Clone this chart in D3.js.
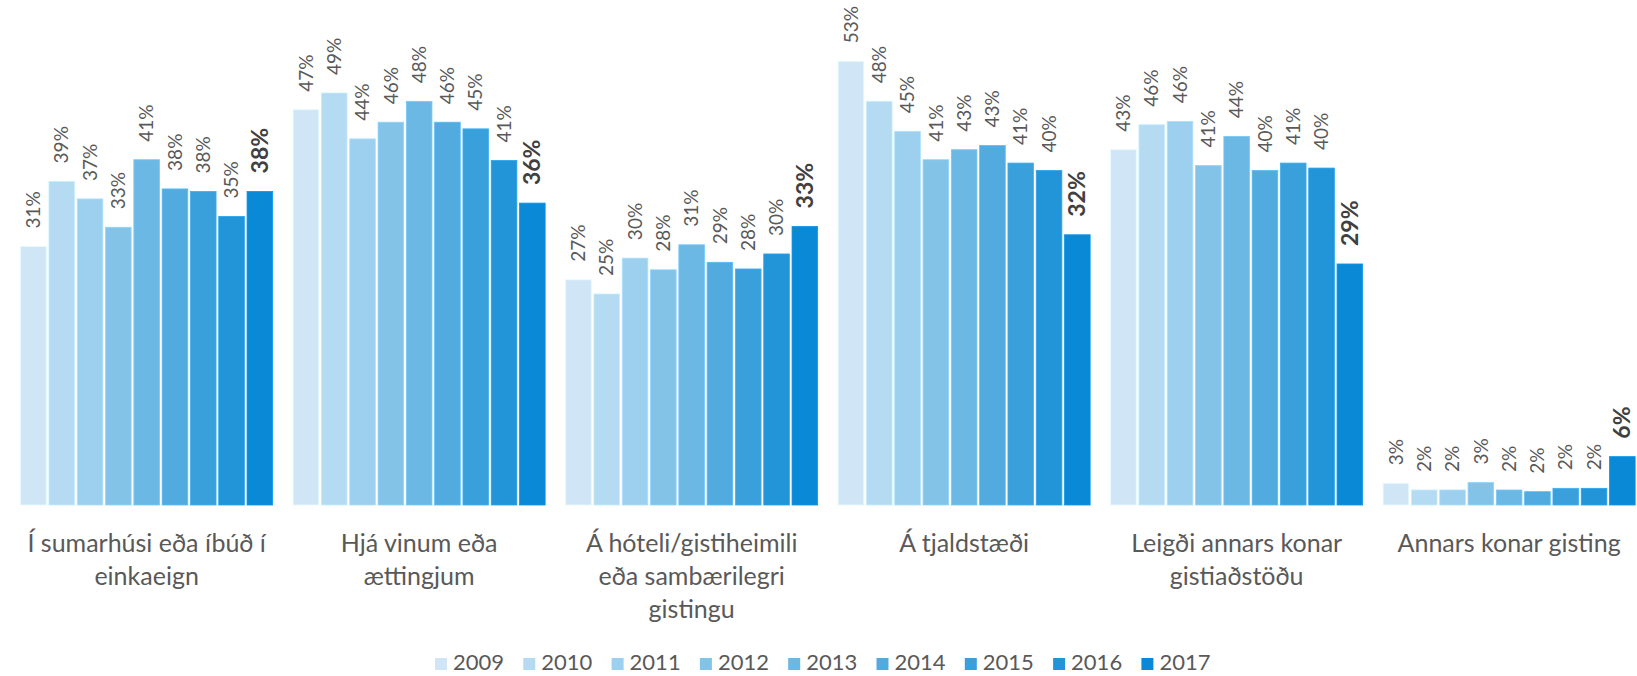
<!DOCTYPE html>
<html>
<head>
<meta charset="utf-8">
<script src="https://cdn.jsdelivr.net/npm/d3@7"></script>
<style>
  html, body { margin: 0; padding: 0; background: #ffffff; }
  svg { display: block; }
  text { font-family: Lato, "Open Sans", sans-serif; }
</style>
</head>
<body>
<svg id="chart" width="1637" height="676"></svg>
<script>
// Gistimáti ferðamanna eftir árum (%)
const categories = [
  "Í sumarhúsi eða íbúð í\neinkaeign",
  "Hjá vinum eða\nættingjum",
  "Á hóteli/gistiheimili\neða sambærilegri\ngistingu",
  "Á tjaldstæði",
  "Leigði annars konar\ngistiaðstöðu",
  "Annars konar gisting"
];
const years = ["2009", "2010", "2011", "2012", "2013", "2014", "2015", "2016", "2017"];

const v2009 = [31.0, 47.4, 27.0, 53.2, 42.6, 2.6];
const v2010 = [38.8, 49.4, 25.3, 48.4, 45.6, 1.8];
const v2011 = [36.7, 43.9, 29.6, 44.8, 46.0, 1.8];
const v2012 = [33.3, 45.9, 28.2, 41.4, 40.7, 2.7];
const v2013 = [41.4, 48.4, 31.2, 42.6, 44.2, 1.8];
const v2014 = [37.9, 45.9, 29.1, 43.1, 40.1, 1.6];
const v2015 = [37.6, 45.1, 28.3, 41.0, 41.0, 2.0];
const v2016 = [34.6, 41.3, 30.1, 40.1, 40.4, 2.0];
const v2017 = [37.6, 36.2, 33.4, 32.4, 28.9, 5.8];
const seriesValues = [v2009, v2010, v2011, v2012, v2013, v2014, v2015, v2016, v2017];

const yearColors = ["#d0e6f6", "#b4dbf2", "#9dcfee", "#84c3e8", "#6cb8e4",
                    "#52abdf", "#3aa0dc", "#2294d8", "#0a89d6"];

const svg = d3.select("#chart");
const baseY = 505;

// category bands (the last one runs slightly past the right edge)
const x0 = d3.scaleBand()
  .domain(d3.range(categories.length))
  .range([10.4, 10.4 + 272.5 * categories.length])
  .paddingInner(0).paddingOuter(0);

const groupGap = 17.8;
const x1 = d3.scaleBand()
  .domain(years)
  .range([groupGap / 2, x0.bandwidth() - groupGap / 2])
  .paddingInner(0).paddingOuter(0);

const y = d3.scaleLinear().domain([0, 60]).range([baseY, baseY - 60 * 8.34]);

const color = d3.scaleOrdinal().domain(years).range(yearColors);

const rows = [];
categories.forEach((c, ci) => {
  years.forEach((yr, si) => {
    rows.push({ ci, year: yr, si, value: seriesValues[si][ci] });
  });
});

const barGap = 2.7;
const g = svg.append("g");

g.selectAll("rect.bar")
  .data(rows)
  .join("rect")
  .attr("class", "bar")
  .attr("x", d => x0(d.ci) + x1(d.year) + barGap / 2)
  .attr("width", x1.bandwidth() - barGap)
  .attr("y", d => y(d.value))
  .attr("height", d => baseY - y(d.value))
  .attr("fill", d => color(d.year))
  .attr("stroke", d => d3.color(color(d.year)).brighter(0.25))
  .attr("stroke-width", 0.8);

// rotated value labels above each bar; the latest year is emphasised
g.selectAll("text.val")
  .data(rows)
  .join("text")
  .attr("class", "val")
  .attr("transform", d => {
    const cx = x0(d.ci) + x1(d.year) + x1.bandwidth() / 2;
    return `translate(${cx},${y(d.value) - 18}) rotate(-90)`;
  })
  .attr("dy", "0.35em")
  .attr("text-anchor", "start")
  .attr("font-size", d => d.si === years.length - 1 ? 23 : 19)
  .attr("font-weight", d => d.si === years.length - 1 ? "bold" : "normal")
  .attr("fill", d => d.si === years.length - 1 ? "#404040" : "#595959")
  .text(d => Math.round(d.value) + "%");

// category labels
const catLabels = svg.append("g")
  .selectAll("text")
  .data(categories)
  .join("text")
  .attr("x", (c, i) => x0(i) + x0.bandwidth() / 2)
  .attr("y", 552)
  .attr("text-anchor", "middle")
  .attr("font-size", 25)
  .attr("fill", "#595959");
catLabels.each(function(c) {
  const t = d3.select(this);
  c.split("\n").forEach((line, li) => {
    t.append("tspan")
      .attr("x", t.attr("x"))
      .attr("dy", li === 0 ? 0 : 33)
      .text(line);
  });
});

// legend
const legend = svg.append("g");
const item = legend.selectAll("g")
  .data(years)
  .join("g")
  .attr("transform", (d, i) => `translate(${435 + i * 88.3},0)`);
item.append("rect")
  .attr("x", 0).attr("y", 658)
  .attr("width", 12).attr("height", 12)
  .attr("fill", d => color(d));
item.append("text")
  .attr("x", 18).attr("y", 670)
  .attr("font-size", 22)
  .attr("fill", "#595959")
  .text(d => d);
</script>
</body>
</html>
